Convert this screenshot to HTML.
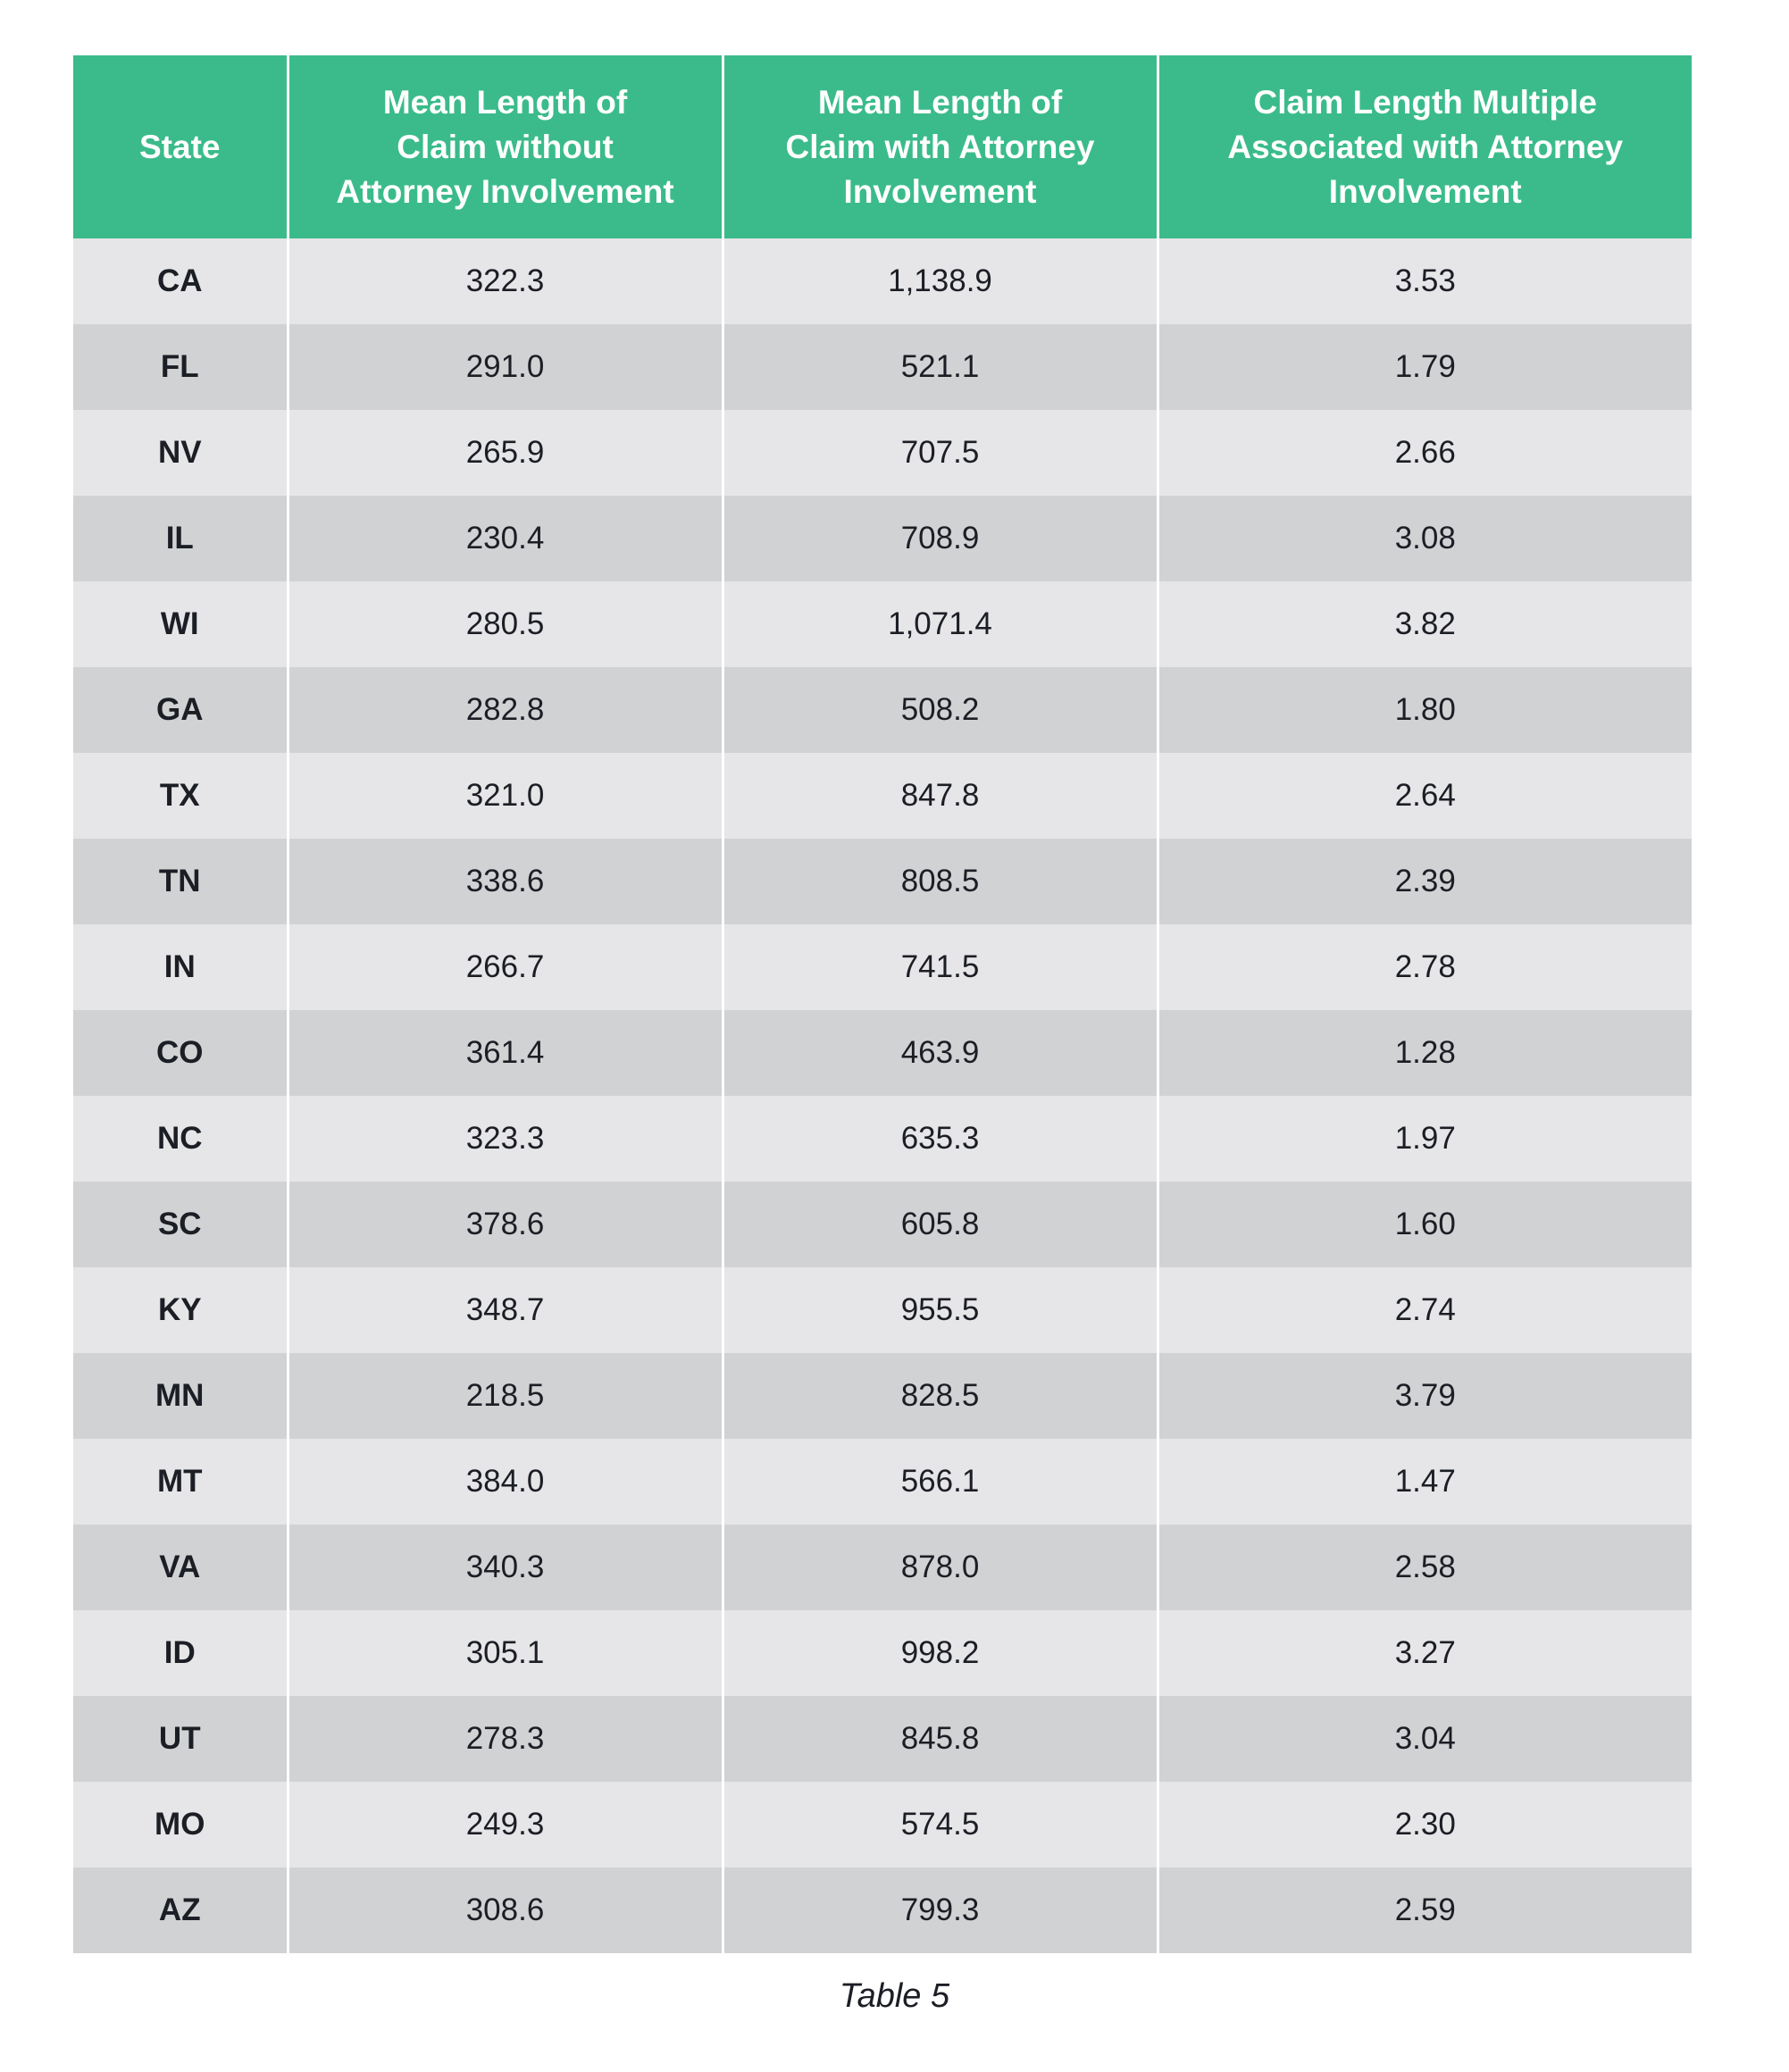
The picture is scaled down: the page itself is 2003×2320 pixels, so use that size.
<!DOCTYPE html>
<html><head><meta charset="utf-8"><style>
body{margin:0;width:2003px;height:2320px;background:#fff;position:relative;font-family:"Liberation Sans",sans-serif;overflow:hidden}
table{position:absolute;left:82px;top:62px;width:1812px;border-collapse:collapse;table-layout:fixed}
td,th{text-align:center;padding:0;border-left:3px solid #fff;border-right:3px solid #fff}
td:first-child,th:first-child{border-left:none}
td:last-child,th:last-child{border-right:none}
th{background:#3bbb8b;color:#fff;height:205px;font-size:37px;line-height:50px;font-weight:bold}
td{height:96px;font-size:35px;color:#1c1e25}
td:first-child{font-weight:bold}
tr:nth-child(odd) td{background:#d1d2d4}
tr:nth-child(even) td{background:#e6e6e8}
.cap{position:absolute;top:2214px;left:0;width:2003px;text-align:center;font-style:italic;font-size:38px;color:#1c1e25}
</style></head><body>
<table>
<colgroup><col style="width:240px"><col style="width:487px"><col style="width:487px"><col style="width:598px"></colgroup>
<thead><tr><th>State</th><th>Mean Length of<br>Claim without<br>Attorney Involvement</th><th>Mean Length of<br>Claim with Attorney<br>Involvement</th><th>Claim Length Multiple<br>Associated with Attorney<br>Involvement</th></tr></thead>
<tbody>
<tr style="display:none"><td></td></tr>
<tr><td>CA</td><td>322.3</td><td>1,138.9</td><td>3.53</td></tr>
<tr><td>FL</td><td>291.0</td><td>521.1</td><td>1.79</td></tr>
<tr><td>NV</td><td>265.9</td><td>707.5</td><td>2.66</td></tr>
<tr><td>IL</td><td>230.4</td><td>708.9</td><td>3.08</td></tr>
<tr><td>WI</td><td>280.5</td><td>1,071.4</td><td>3.82</td></tr>
<tr><td>GA</td><td>282.8</td><td>508.2</td><td>1.80</td></tr>
<tr><td>TX</td><td>321.0</td><td>847.8</td><td>2.64</td></tr>
<tr><td>TN</td><td>338.6</td><td>808.5</td><td>2.39</td></tr>
<tr><td>IN</td><td>266.7</td><td>741.5</td><td>2.78</td></tr>
<tr><td>CO</td><td>361.4</td><td>463.9</td><td>1.28</td></tr>
<tr><td>NC</td><td>323.3</td><td>635.3</td><td>1.97</td></tr>
<tr><td>SC</td><td>378.6</td><td>605.8</td><td>1.60</td></tr>
<tr><td>KY</td><td>348.7</td><td>955.5</td><td>2.74</td></tr>
<tr><td>MN</td><td>218.5</td><td>828.5</td><td>3.79</td></tr>
<tr><td>MT</td><td>384.0</td><td>566.1</td><td>1.47</td></tr>
<tr><td>VA</td><td>340.3</td><td>878.0</td><td>2.58</td></tr>
<tr><td>ID</td><td>305.1</td><td>998.2</td><td>3.27</td></tr>
<tr><td>UT</td><td>278.3</td><td>845.8</td><td>3.04</td></tr>
<tr><td>MO</td><td>249.3</td><td>574.5</td><td>2.30</td></tr>
<tr><td>AZ</td><td>308.6</td><td>799.3</td><td>2.59</td></tr>
</tbody></table>
<div class="cap">Table 5</div>
</body></html>
